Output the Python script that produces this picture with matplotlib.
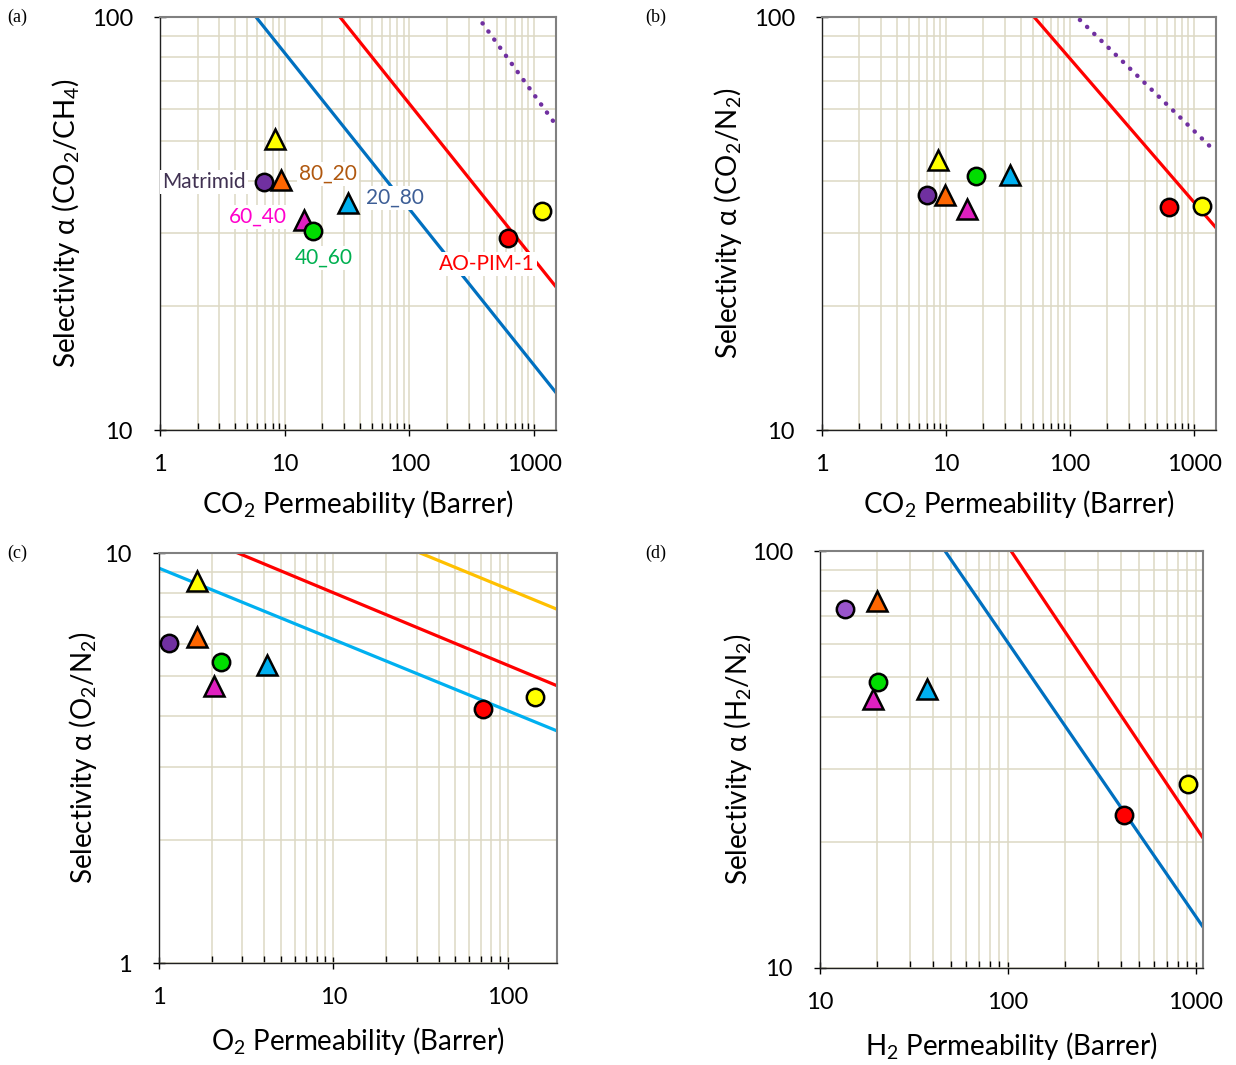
import numpy as np
import matplotlib
matplotlib.use("Agg")
import matplotlib.pyplot as plt
from matplotlib.ticker import LogLocator, NullFormatter, FixedLocator, FixedFormatter

plt.rcParams['font.family'] = ['Lato', 'DejaVu Sans']
plt.rcParams['mathtext.default'] = 'regular'

# ---------------- data ----------------
names = ["Matrimid", "80_20", "100_0", "60_40", "40_60", "20_80", "AO-PIM-1", "PIM-1"]
markers = ["o", "^", "^", "^", "o", "^", "o", "o"]
face_colors = ["#7030A0", "#FF6600", "#FFFF00", "#E020C0", "#00DD00", "#00B0F0", "#FF0000", "#FFFF00"]

# (a) CO2/CH4
a_perm = [6.8, 9.3, 8.4, 14.3, 16.9, 32.2, 618, 1157]
a_sel = [39.8, 40.3, 50.7, 32.2, 30.3, 35.5, 29.2, 33.9]
# (b) CO2/N2
b_perm = [7.0, 9.8, 8.6, 14.8, 17.5, 32.8, 629, 1160]
b_sel = [37.1, 37.1, 45.1, 34.3, 41.2, 41.4, 34.7, 34.8]
# (c) O2/N2
c_perm = [1.14, 1.65, 1.65, 2.07, 2.27, 4.16, 71.9, 143]
c_sel = [6.03, 6.24, 8.55, 4.74, 5.42, 5.33, 4.16, 4.45]
# (d) H2/N2 (no 100_0 point)
d_perm = [13.6, 20.1, None, 19.1, 20.4, 37.1, 414, 906]
d_sel = [72.6, 75.9, None, 44.2, 48.5, 46.7, 23.3, 27.6]

# upper-bound lines: log10(alpha) = intercept + slope * log10(P)
a_line_intercept = [2.291, 2.544, 3.066]
a_line_slope = [-0.378, -0.377, -0.418]
a_line_color = ["#0070C0", "#FF0000", "#7030A0"]
a_line_style = ["solid", "solid", "dotted"]

b_line_intercept = [2.595, 2.600]
b_line_slope = [-0.348, -0.292]
b_line_color = ["#FF0000", "#7030A0"]
b_line_style = ["solid", "dotted"]

c_line_intercept = [0.963, 1.080, 1.262]
c_line_slope = [-0.174, -0.177, -0.175]
c_line_color = ["#00B0F0", "#FF0000", "#FFC000"]
c_line_style = ["solid", "solid", "solid"]

d_line_intercept = [3.094, 3.359]
d_line_slope = [-0.657, -0.674]
d_line_color = ["#0070C0", "#FF0000"]
d_line_style = ["solid", "solid"]

GRID = "#DDD9C4"
W, H = 1236, 1065
fig = plt.figure(figsize=(W / 100, H / 100), dpi=100)


def px_axes(l, t, r, b):
    return fig.add_axes([l / W, 1 - b / H, (r - l) / W, (b - t) / H])


def style_axes(ax, xlim, ylim, xticks, yticks, xlabel, ylabel, ylabelpad=7, xlabelpad=9):
    ax.set_xscale('log')
    ax.set_yscale('log')
    ax.set_xlim(*xlim)
    ax.set_ylim(*ylim)
    ax.xaxis.set_major_locator(FixedLocator(xticks))
    ax.xaxis.set_major_formatter(FixedFormatter([str(v) for v in xticks]))
    ax.yaxis.set_major_locator(FixedLocator(yticks))
    ax.yaxis.set_major_formatter(FixedFormatter([str(v) for v in yticks]))
    ax.xaxis.set_minor_locator(LogLocator(base=10, subs=np.arange(2, 10), numticks=20))
    ax.yaxis.set_minor_locator(LogLocator(base=10, subs=np.arange(2, 10), numticks=20))
    ax.xaxis.set_minor_formatter(NullFormatter())
    ax.yaxis.set_minor_formatter(NullFormatter())
    ax.grid(True, which='both', color=GRID, linewidth=1.1, zorder=0)
    ax.set_axisbelow(True)
    ax.tick_params(which='major', direction='inout', length=9, width=1, labelsize=17,
                   colors='black')
    ax.tick_params(axis='x', which='major', pad=13)
    ax.tick_params(axis='y', which='major', pad=15)
    ax.tick_params(which='minor', direction='in', length=5, width=1)
    ax.tick_params(axis='y', which='minor', length=0)
    for s in ['top', 'right']:
        ax.spines[s].set_color('#808080')
        ax.spines[s].set_linewidth(1.5)
    for s in ['left', 'bottom']:
        ax.spines[s].set_color('#202020')
        ax.spines[s].set_linewidth(1.0)
    ax.set_xlabel(xlabel, fontsize=20, labelpad=xlabelpad)
    ax.set_ylabel(ylabel, fontsize=20, labelpad=ylabelpad)


def draw_lines(ax, xlim, intercepts, slopes, colors, styles):
    xs = np.logspace(np.log10(xlim[0]), np.log10(xlim[1]), 200)
    for a0, s, c, ls in zip(intercepts, slopes, colors, styles):
        ys = 10 ** (a0 + s * np.log10(xs))
        if ls == 'dotted':
            ax.plot(xs, ys, color=c, linewidth=3.2, linestyle=(0, (0.05, 2.2)),
                    dash_capstyle='round', zorder=2)
        else:
            ax.plot(xs, ys, color=c, linewidth=2.3, zorder=2)


def draw_points(ax, perm, sel, fcols=None):
    fcols = fcols or face_colors
    for p, s, m, fc in zip(perm, sel, markers, fcols):
        if p is None:
            continue
        ms = 12.5 if m == 'o' else 14.5
        ax.plot([p], [s], marker=m, markersize=ms, markerfacecolor=fc,
                markeredgecolor='black', markeredgewidth=1.8, linestyle='none', zorder=4,
                clip_on=False)


# ---------- (a) ----------
axA = px_axes(160, 17, 556, 430)
xlimA = (1, 1500)
style_axes(axA, xlimA, (10, 100), [1, 10, 100, 1000], [10, 100],
           'CO$_2$ Permeability (Barrer)', 'Selectivity α (CO$_2$/CH$_4$)', 7)
draw_lines(axA, xlimA, a_line_intercept, a_line_slope, a_line_color, a_line_style)
draw_points(axA, a_perm, a_sel)
bb = dict(boxstyle='square,pad=0.1', facecolor='white', edgecolor='none')
fs = 15
axA.text(4.9, 39.8, 'Matrimid', color='#403152', fontsize=fs, ha='right', va='center', bbox=bb, zorder=3)
axA.text(13.0, 41.7, '80_20', color='#B0580F', fontsize=fs, ha='left', va='center', bbox=bb, zorder=3)
axA.text(44.9, 36.5, '20_80', color='#3D5E96', fontsize=fs, ha='left', va='center', bbox=bb, zorder=3)
axA.text(10.4, 32.8, '60_40', color='#FF00CC', fontsize=fs, ha='right', va='center', bbox=bb, zorder=3)
axA.text(20.7, 26.1, '40_60', color='#00B050', fontsize=fs, ha='center', va='center', bbox=bb, zorder=3)
axA.text(419, 25.2, 'AO-PIM-1', color='#FF0000', fontsize=fs, ha='center', va='center', bbox=bb, zorder=3)

# ---------- (b) ----------
axB = px_axes(822, 17, 1216, 430)
xlimB = (1, 1500)
style_axes(axB, xlimB, (10, 100), [1, 10, 100, 1000], [10, 100],
           'CO$_2$ Permeability (Barrer)', 'Selectivity α (CO$_2$/N$_2$)', 7)
draw_lines(axB, xlimB, b_line_intercept, b_line_slope, b_line_color, b_line_style)
draw_points(axB, b_perm, b_sel)

# ---------- (c) ----------
axC = px_axes(159, 553, 557, 963)
xlimC = (1, 191)
style_axes(axC, xlimC, (1, 10), [1, 10, 100], [1, 10],
           'O$_2$ Permeability (Barrer)', 'Selectivity α (O$_2$/N$_2$)', 4, 12)
draw_lines(axC, xlimC, c_line_intercept, c_line_slope, c_line_color, c_line_style)
draw_points(axC, c_perm, c_sel)

# ---------- (d) ----------
axD = px_axes(820, 551, 1203, 968)
xlimD = (10, 1090)
style_axes(axD, xlimD, (10, 100), [10, 100, 1000], [10, 100],
           'H$_2$ Permeability (Barrer)', 'Selectivity α (H$_2$/N$_2$)', -2, 12)
draw_lines(axD, xlimD, d_line_intercept, d_line_slope, d_line_color, d_line_style)
d_cols = list(face_colors)
d_cols[0] = "#9954CC"
draw_points(axD, d_perm, d_sel, d_cols)

# panel letters
for lbl, (x, y) in zip(['(a)', '(b)', '(c)', '(d)'], [(7, 17), (645, 17), (7, 553), (645, 553)]):
    fig.text(x / W, 1 - y / H, lbl, fontsize=13, family='Liberation Serif', ha='left', va='center')

fig.savefig('out.png', dpi=100)
